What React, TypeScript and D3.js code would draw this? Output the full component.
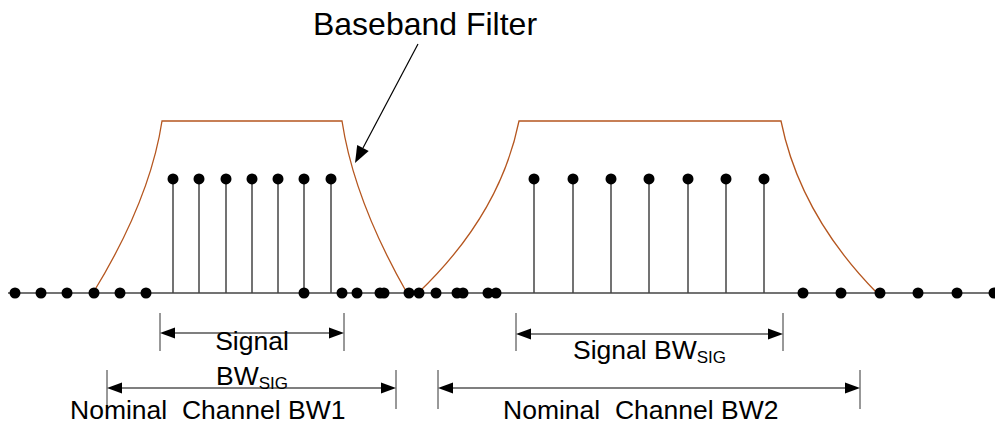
import React from "react";
import * as d3 from "d3";

// ---- data (frequency axis in drawing units, amplitude 0..1) ----
const baselineDots = [15, 41, 67, 94, 120, 146, 304, 342, 357, 380, 384, 409, 419, 436, 457, 463, 488, 496, 803, 841, 880, 918, 957, 994];
const signal1Tones = [173, 199, 226, 252, 278, 304, 331];
const signal2Tones = [534, 573, 611, 649, 688, 726, 764];
const toneLevel = 0.663;
// filter: [bottomLeft, ctrlLeft, topLeft, topRight, ctrlRight, bottomRight]
const filter1 = { f: [93, 150, 162, 342, 354, 407], ctrlAmp: 0.54 };
const filter2 = { f: [418, 500, 519, 781, 800, 877], ctrlAmp: 0.455 };
const dims = [
  { from: 160, to: 344, row: "sig" },
  { from: 107, to: 396, row: "nom" },
  { from: 516, to: 783, row: "sig2" },
  { from: 438, to: 860, row: "nom" },
];

const W = 995, H = 426;
const x = d3.scaleLinear().domain([0, 995]).range([0, 995]);
const y = d3.scaleLinear().domain([0, 1]).range([293, 121]);

const ORANGE = "#b5561f";
const FONT = "'Liberation Sans', Arial, sans-serif";

function filterPath(fl: { f: number[]; ctrlAmp: number }) {
  const [b0, c0, t0, t1, c1, b1] = fl.f;
  const p = d3.path();
  p.moveTo(x(b0), y(0));
  p.quadraticCurveTo(x(c0), y(fl.ctrlAmp), x(t0), y(1));
  p.lineTo(x(t1), y(1));
  p.quadraticCurveTo(x(c1), y(fl.ctrlAmp), x(b1), y(0));
  return p.toString();
}

function DimArrow({ x0, x1, yy, tickTop, tickBot }: { x0: number; x1: number; yy: number; tickTop: number; tickBot: number }) {
  const L = 15, hw = 5.5;
  return (
    <g>
      <line x1={x0} x2={x0} y1={tickTop} y2={tickBot} stroke="#333" strokeWidth={1} />
      <line x1={x1} x2={x1} y1={tickTop} y2={tickBot} stroke="#333" strokeWidth={1} />
      <line x1={x0 + L} x2={x1 - L} y1={yy} y2={yy} stroke="#000" strokeWidth={1.2} />
      <polygon points={`${x0},${yy} ${x0 + L},${yy - hw} ${x0 + L},${yy + hw}`} fill="#000" />
      <polygon points={`${x1},${yy} ${x1 - L},${yy - hw} ${x1 - L},${yy + hw}`} fill="#000" />
    </g>
  );
}

export default function App() {
  const rowY: Record<string, [number, number, number]> = {
    sig: [333, 313, 351],
    sig2: [334, 313, 351],
    nom: [388, 370, 409],
  };
  // title arrow
  const ax0 = 418, ay0 = 44, ax1 = 355, ay1 = 163;
  const ang = Math.atan2(ay1 - ay0, ax1 - ax0);
  const AL = 17, AW = 6.5;
  const bx = ax1 - AL * Math.cos(ang), by = ay1 - AL * Math.sin(ang);
  const px = -Math.sin(ang) * AW, py = Math.cos(ang) * AW;

  return (
    <svg width={W} height={H} style={{ position: "absolute", left: 0, top: 0, background: "#fff" }} fontFamily={FONT}>
      {/* baseline */}
      <line x1={x(8)} x2={x(995)} y1={y(0)} y2={y(0)} stroke="#444" strokeWidth={1.6} />
      {/* filters */}
      <path d={filterPath(filter1)} fill="none" stroke={ORANGE} strokeWidth={1.3} />
      <path d={filterPath(filter2)} fill="none" stroke={ORANGE} strokeWidth={1.3} />
      {/* stems */}
      {[...signal1Tones, ...signal2Tones].map((f, i) => (
        <g key={"s" + i}>
          <line x1={x(f)} x2={x(f)} y1={y(0)} y2={y(toneLevel)} stroke="#444" strokeWidth={1.5} />
          <circle cx={x(f)} cy={y(toneLevel)} r={5.5} fill="#000" />
        </g>
      ))}
      {/* baseline dots */}
      {baselineDots.map((f, i) => (
        <circle key={"d" + i} cx={x(f)} cy={y(0)} r={5.5} fill="#000" />
      ))}
      {/* title + arrow */}
      <text x={425} y={35} fontSize={32} textAnchor="middle" fill="#000">Baseband Filter</text>
      <line x1={ax0} y1={ay0} x2={bx} y2={by} stroke="#000" strokeWidth={1.2} />
      <polygon points={`${ax1},${ay1} ${bx + px},${by + py} ${bx - px},${by - py}`} fill="#000" />
      {/* dimension arrows */}
      {dims.map((d, i) => {
        const [yy, t, b] = rowY[d.row];
        return <DimArrow key={"a" + i} x0={x(d.from)} x1={x(d.to)} yy={yy} tickTop={t} tickBot={b} />;
      })}
      {/* labels */}
      <text x={252} y={350} fontSize={26.5} textAnchor="middle">Signal</text>
      <text x={252} y={385} fontSize={26.5} textAnchor="middle">
        BW<tspan fontSize={17} dy={4}>SIG</tspan>
      </text>
      <text x={573} y={359} fontSize={26.5}>
        Signal BW<tspan fontSize={17} dy={4}>SIG</tspan>
      </text>
      <text x={70} y={419} fontSize={26.5} style={{ whiteSpace: "pre" }}>{"Nominal  Channel BW1"}</text>
      <text x={503} y={419} fontSize={26.5} style={{ whiteSpace: "pre" }}>{"Nominal  Channel BW2"}</text>
    </svg>
  );
}
